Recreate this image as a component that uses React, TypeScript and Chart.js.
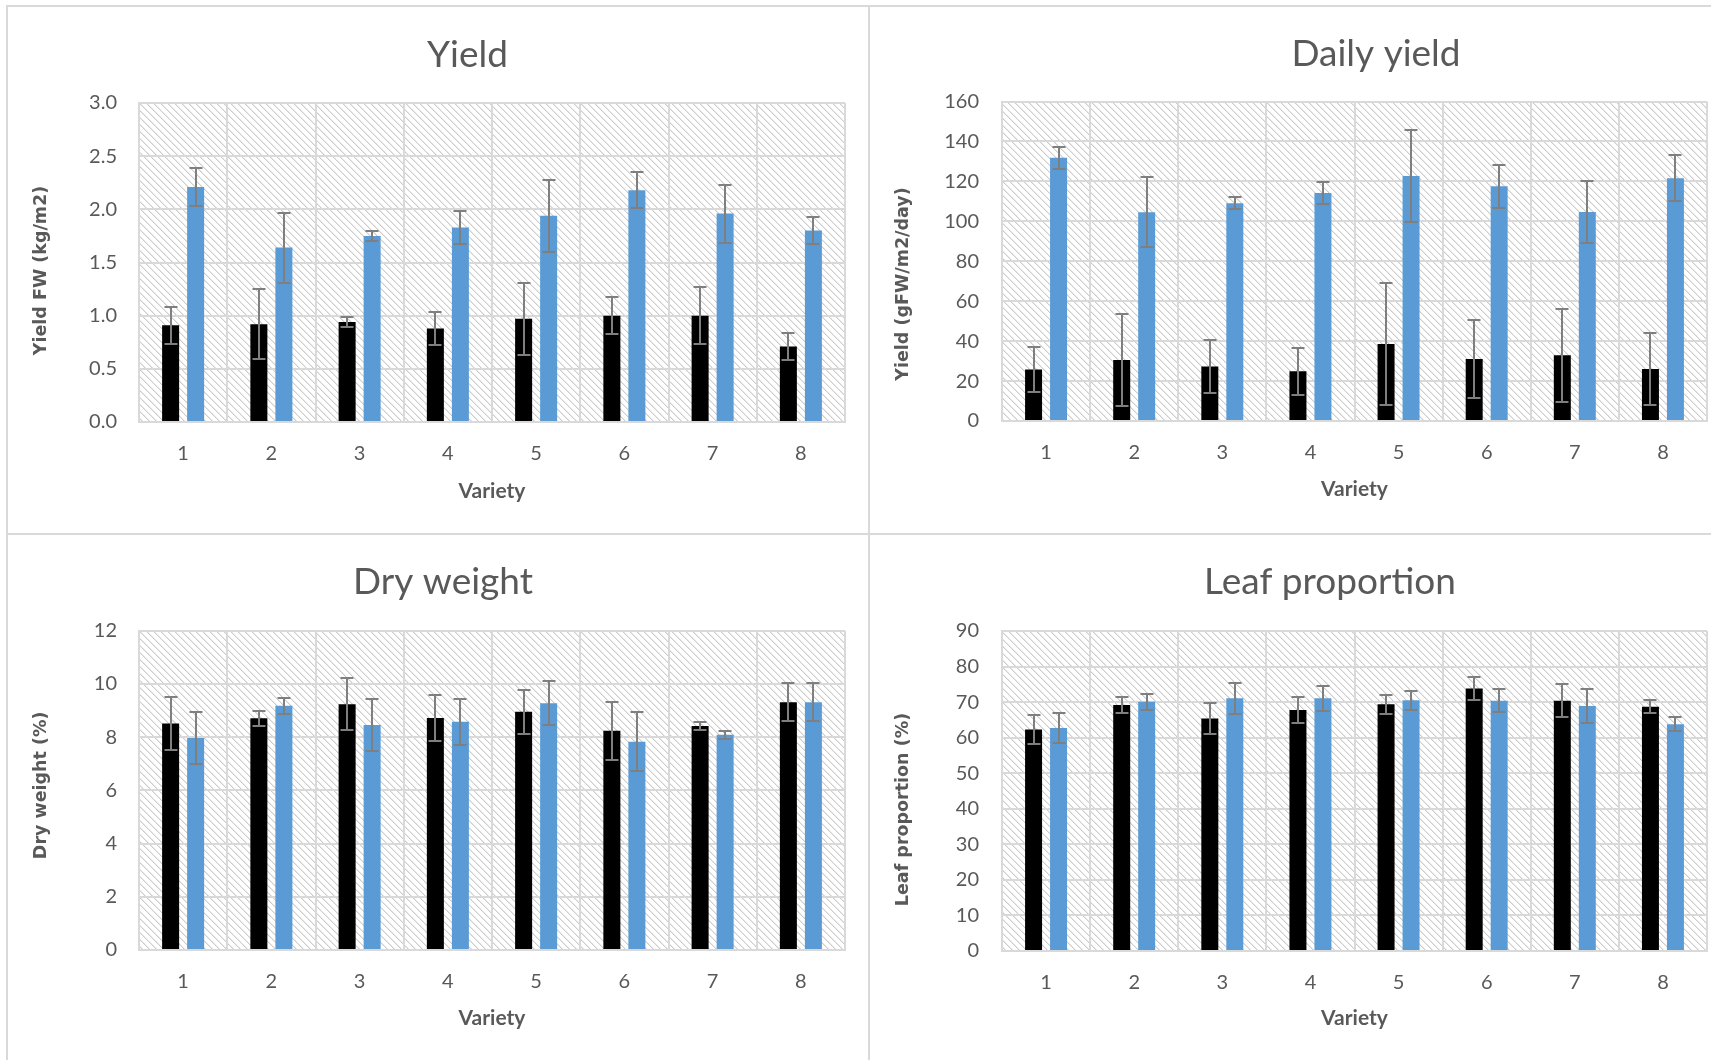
import React, { useEffect, useRef } from 'react';
import { Chart, registerables } from 'chart.js';

Chart.register(...registerables);

// ---------- data ----------
const varieties = ['1', '2', '3', '4', '5', '6', '7', '8'];

const yieldBlack = [0.91, 0.92, 0.94, 0.88, 0.97, 1.0, 1.0, 0.71];
const yieldBlackErr = [0.175, 0.33, 0.043, 0.156, 0.337, 0.176, 0.27, 0.13];
const yieldBlue = [2.21, 1.64, 1.75, 1.83, 1.94, 2.18, 1.96, 1.8];
const yieldBlueErr = [0.176, 0.33, 0.044, 0.157, 0.34, 0.172, 0.272, 0.13];

const dailyBlack = [25.8, 30.6, 27.3, 24.9, 38.6, 31.1, 32.9, 26.1];
const dailyBlackErr = [11.3, 23.2, 13.3, 11.7, 30.7, 19.4, 23.2, 18.2];
const dailyBlue = [131.8, 104.5, 109.0, 114.2, 122.7, 117.5, 104.7, 121.6];
const dailyBlueErr = [5.4, 17.5, 3.0, 5.4, 23.2, 10.9, 15.7, 11.4];

const dryBlack = [8.51, 8.71, 9.24, 8.72, 8.95, 8.24, 8.42, 9.31];
const dryBlackErr = [0.98, 0.28, 0.98, 0.87, 0.84, 1.09, 0.16, 0.72];
const dryBlue = [7.97, 9.18, 8.46, 8.58, 9.27, 7.83, 8.09, 9.31];
const dryBlueErr = [0.98, 0.3, 0.99, 0.87, 0.83, 1.1, 0.15, 0.72];

const leafBlack = [62.3, 69.2, 65.4, 67.8, 69.4, 73.8, 70.4, 68.7];
const leafBlackErr = [4.1, 2.35, 4.25, 3.7, 2.7, 3.25, 4.6, 1.9];
const leafBlue = [62.7, 70.1, 71.1, 71.1, 70.5, 70.4, 68.9, 63.8];
const leafBlueErr = [4.1, 2.3, 4.35, 3.55, 2.7, 3.3, 4.7, 2.0];

const chartTitles = ['Yield', 'Daily yield', 'Dry weight', 'Leaf proportion'];
const yAxisTitles = ['Yield FW (kg/m2)', 'Yield (gFW/m2/day)', 'Dry weight (%)', 'Leaf proportion (%)'];
const xAxisTitle = 'Variety';
const yMax = [3, 160, 12, 90];
const yStep = [0.5, 20, 2, 10];
const yDecimals = [1, 0, 0, 0];

// ---------- styles ----------
const GRID = '#d9d9d9';
const TEXT = '#595959';
const BLACK = '#000000';
const BLUE = '#5b9bd5';
const ERR = '#7f7f7f';

let hatchTile: HTMLCanvasElement | null = null;
function getHatch() {
  if (hatchTile) return hatchTile;
  const n = 7;
  const c = document.createElement('canvas');
  c.width = n;
  c.height = n;
  const g = c.getContext('2d')!;
  g.fillStyle = '#ffffff';
  g.fillRect(0, 0, n, n);
  for (let y = 0; y < n; y++) {
    g.fillStyle = '#cdcdcd';
    g.fillRect(y % n, y, 1, 1);
    g.fillStyle = '#e8e8e8';
    g.fillRect((y + 1) % n, y, 1, 1);
  }
  hatchTile = c;
  return c;
}

type Panel = {
  left: number;
  top: number;
  w: number;
  h: number;
  area: { l: number; t: number; r: number; b: number };
  titleX: number;
  titleBase: number;
  yTitleY: number;
  varietyY: number;
  idx: number;
  black: number[];
  blackErr: number[];
  blue: number[];
  blueErr: number[];
};

const panels: Panel[] = [
  { left: 7, top: 6, w: 862, h: 528, area: { l: 132, t: 97, r: 838, b: 416 }, titleX: 460.5, titleBase: 61, yTitleY: 264.5, varietyY: 485, idx: 0, black: yieldBlack, blackErr: yieldBlackErr, blue: yieldBlue, blueErr: yieldBlueErr },
  { left: 869, top: 6, w: 842, h: 528, area: { l: 133, t: 95.5, r: 838, b: 415 }, titleX: 507, titleBase: 59.5, yTitleY: 278, varietyY: 483.5, idx: 1, black: dailyBlack, blackErr: dailyBlackErr, blue: dailyBlue, blueErr: dailyBlueErr },
  { left: 7, top: 534, w: 862, h: 526, area: { l: 132, t: 96.7, r: 838, b: 416 }, titleX: 436, titleBase: 59.6, yTitleY: 251.3, varietyY: 484.5, idx: 2, black: dryBlack, blackErr: dryBlackErr, blue: dryBlue, blueErr: dryBlueErr },
  { left: 869, top: 534, w: 842, h: 526, area: { l: 133, t: 97, r: 838, b: 417 }, titleX: 461, titleBase: 60.2, yTitleY: 275.5, varietyY: 484.5, idx: 3, black: leafBlack, blackErr: leafBlackErr, blue: leafBlue, blueErr: leafBlueErr },
];

function ChartPanel({ p }: { p: Panel }) {
  const ref = useRef<HTMLCanvasElement>(null);
  useEffect(() => {
    const canvas = ref.current!;
    const i = p.idx;
    const hatchPlugin = {
      id: 'hatch',
      beforeDraw(chart: any) {
        const { ctx, chartArea } = chart;
        ctx.save();
        ctx.fillStyle = ctx.createPattern(getHatch(), 'repeat');
        ctx.fillRect(chartArea.left, chartArea.top, chartArea.right - chartArea.left, chartArea.bottom - chartArea.top);
        ctx.restore();
      },
    };
    const errorBarPlugin = {
      id: 'errorBars',
      afterDatasetsDraw(chart: any) {
        const { ctx } = chart;
        const y = chart.scales.y;
        ctx.save();
        ctx.strokeStyle = ERR;
        ctx.lineWidth = 2;
        chart.data.datasets.forEach((ds: any, di: number) => {
          const meta = chart.getDatasetMeta(di);
          meta.data.forEach((bar: any, k: number) => {
            const v = ds.data[k];
            const e = ds.errors[k];
            const x = Math.round(bar.x);
            const yT = Math.round(y.getPixelForValue(v + e));
            const yB = Math.round(y.getPixelForValue(v - e));
            ctx.beginPath();
            ctx.moveTo(x, yT);
            ctx.lineTo(x, yB);
            ctx.moveTo(x - 6.5, yT);
            ctx.lineTo(x + 6.5, yT);
            ctx.moveTo(x - 6.5, yB);
            ctx.lineTo(x + 6.5, yB);
            ctx.stroke();
          });
        });
        ctx.restore();
      },
    };
    const textPlugin = {
      id: 'panelText',
      afterDraw(chart: any) {
        const { ctx } = chart;
        ctx.save();
        ctx.fillStyle = TEXT;
        ctx.font = 'normal 37px Lato, sans-serif';
        ctx.textAlign = 'center';
        ctx.textBaseline = 'alphabetic';
        ctx.fillText(chartTitles[i], p.titleX, p.titleBase);
        ctx.translate(34.5, p.yTitleY);
        ctx.rotate(-Math.PI / 2);
        ctx.font = 'bold 17.5px "DejaVu Sans", sans-serif';
        ctx.textBaseline = 'middle';
        ctx.fillText(yAxisTitles[i], 0, 0);
        ctx.restore();
      },
    };
    const chart = new Chart(canvas, {
      type: 'bar',
      data: {
        labels: varieties,
        datasets: [
          { data: p.black, errors: p.blackErr, backgroundColor: BLACK, barPercentage: 0.68, categoryPercentage: 0.567 } as any,
          { data: p.blue, errors: p.blueErr, backgroundColor: BLUE, barPercentage: 0.68, categoryPercentage: 0.567 } as any,
        ],
      },
      options: {
        responsive: false,
        animation: false,
        devicePixelRatio: 1,
        layout: { padding: { left: 0, top: p.area.t, right: p.w - p.area.r, bottom: 0 } },
        plugins: {
          legend: { display: false },
          title: { display: false },
          tooltip: { enabled: false },
        },
        scales: {
          x: {
            type: 'category',
            grid: { color: GRID, lineWidth: 2, drawTicks: false, offset: true },
            border: { display: true, color: GRID, width: 2 },
            ticks: { color: TEXT, font: { family: 'Lato, sans-serif', size: 20 }, padding: 20 },
            title: {
              display: true,
              text: xAxisTitle,
              color: TEXT,
              font: { family: 'Lato, sans-serif', size: 21, weight: 'bold' },
              padding: { top: 0, bottom: p.h - 12.6 - p.varietyY },
            },
            afterFit: (s: any) => {
              s.height = p.h - p.area.b;
            },
          },
          y: {
            type: 'linear',
            min: 0,
            max: yMax[i],
            grid: { color: GRID, lineWidth: 2, drawTicks: false },
            border: { display: true, color: GRID, width: 2 },
            ticks: {
              stepSize: yStep[i],
              color: TEXT,
              font: { family: 'Lato, sans-serif', size: 20 },
              padding: p.area.l - 110,
              callback: (v: any) => Number(v).toFixed(yDecimals[i]),
            },
            afterFit: (s: any) => {
              s.width = p.area.l;
            },
          },
        },
      } as any,
      plugins: [hatchPlugin, errorBarPlugin, textPlugin],
    });
    return () => chart.destroy();
  }, []);
  return (
    <canvas
      ref={ref}
      width={p.w}
      height={p.h}
      style={{ position: 'absolute', left: p.left, top: p.top, width: p.w, height: p.h }}
    />
  );
}

const line = (s: React.CSSProperties) => (
  <div style={{ position: 'absolute', background: GRID, ...s }} />
);

export default function App() {
  return (
    <div style={{ position: 'absolute', left: 0, top: 0, width: 1711, height: 1060, overflow: 'hidden', background: '#ffffff' }}>
      {panels.map((p) => (
        <ChartPanel key={p.idx} p={p} />
      ))}
      {line({ left: 6, top: 5, width: 2, height: 1055 })}
      {line({ left: 868, top: 5, width: 2, height: 1055 })}
      {line({ left: 6, top: 5, width: 1705, height: 2 })}
      {line({ left: 6, top: 533, width: 1705, height: 2 })}
    </div>
  );
}
